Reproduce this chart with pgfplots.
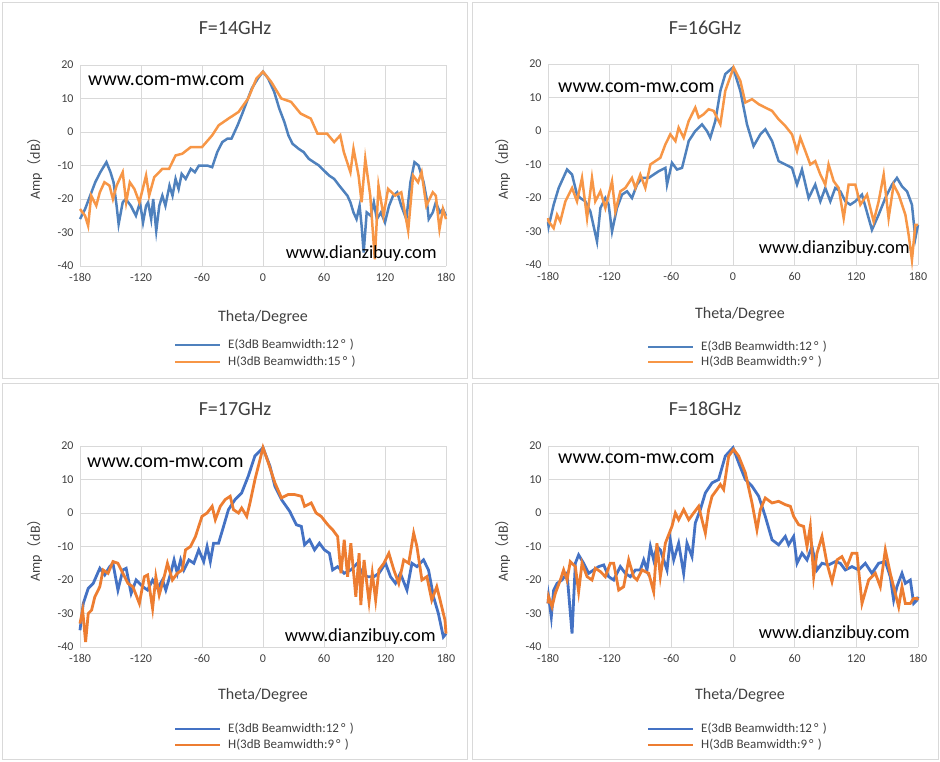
\documentclass[border=0pt]{standalone}
\usepackage{pgfplots}
\pgfplotsset{compat=1.18}
\usepackage{fontspec}
\setmainfont{Carlito}
\newfontfamily\cjk{Noto Sans CJK SC}
\definecolor{bA}{HTML}{4F81BD}
\definecolor{oA}{HTML}{F79646}
\definecolor{bB}{HTML}{4472C4}
\definecolor{oB}{HTML}{ED7D31}
\definecolor{gridc}{HTML}{D9D9D9}
\pgfplotsset{panel/.style={scale only axis,height=201pt,
 xmin=-180,xmax=180,ymin=-40,ymax=20,
 xtick={-180,-120,-60,0,60,120,180},ytick={-40,-30,...,20},
 grid=major,major grid style={gridc,line width=0.8pt},
 axis line style={draw=none},major tick length=0pt,
 tick label style={font=\fontsize{12}{14}\selectfont,text=black!75},
 /pgf/number format/assume math mode=true,
 xticklabel style={yshift=-4pt},yticklabel style={xshift=-3pt},
 clip=false}}
\newcommand\amp{Amp{\cjk （}dB{\cjk ）}}
\begin{document}
\begin{tikzpicture}[x=1pt,y=1pt]
\useasboundingbox (0,0) rectangle (940,-761);
\foreach \a/\b/\c/\d in {2/-2/467/-378,472/-2/938/-378,2/-383/467/-759,472/-383/938/-759}
 \draw[gridc,line width=0.8pt] (\a,\b) rectangle (\c,\d);
% Panel 1
\begin{axis}[panel,width=366pt,at={(80pt,-266pt)},anchor=south west]
\addplot[bA,line width=2.5pt] coordinates {(-180,-26)(-175,-23)(-170,-19)(-165,-15)(-160,-12)(-154,-9)(-150,-12)(-147,-15)(-144,-22)(-142,-27.5)(-138,-21)(-135,-20)(-130,-22)(-125,-25)(-121,-21)(-118,-27)(-115,-22)(-113,-21)(-110,-26)(-108,-20)(-105,-29.5)(-102,-22)(-99,-19)(-96,-22)(-92,-16)(-89,-19)(-86,-14)(-83,-17)(-80,-12.5)(-76,-14)(-71,-11)(-67,-12)(-63,-10)(-60,-10)(-55,-10)(-50,-10.5)(-45,-6)(-40,-3)(-35,-2)(-31,-2)(-25,2)(-21,5)(-16,9)(-11,13)(-5,16)(0,18)(5,16)(11,12)(16,7)(21,3)(25,-1)(29,-3.5)(35,-5)(40,-6)(45,-8)(50,-9)(55,-10)(60,-11.5)(65,-13)(70,-14)(75,-16)(79,-17.5)(83,-19)(86,-21)(89,-24)(92,-26)(95,-22)(97,-28)(99,-36)(102,-24)(106,-25)(109,-21)(112,-26)(116,-24)(120,-27)(124,-22)(128,-19)(132,-18)(136,-22)(141,-26)(145,-15)(149,-9)(153,-10)(158,-15)(161,-20)(163,-26)(167,-24)(170,-21)(174,-24)(177,-23)(180,-25)};
\addplot[oA,line width=2.5pt] coordinates {(-180,-23)(-175,-25)(-172,-28)(-169,-19)(-164,-22)(-160.5,-18)(-156,-15)(-151,-16)(-147.6,-20)(-144,-16)(-138,-12)(-134.6,-21)(-131,-15)(-126.5,-17)(-121.6,-21)(-115,-13)(-112,-19)(-107,-13.5)(-99,-11)(-92.4,-11)(-86,-7)(-79.5,-6.5)(-71,-4.5)(-60,-4.5)(-50,-1)(-43.6,2)(-34,4)(-24,6)(-14.6,10)(-6.4,16)(0,18)(8,15)(18,10)(27.6,9)(37,5.5)(47,4)(53.6,-0.5)(63,-0.5)(70,-3)(76,-1)(79.5,-6)(86,-12)(89,-5)(94,-13)(97,-21)(100.6,-8)(105.5,-19)(110,-38)(113.6,-16)(118.5,-25)(123,-17)(130,-19)(136,-18)(142.8,-29.5)(147.6,-13)(152.5,-15)(156,-12)(160.6,-22)(167,-18)(170,-19)(173.6,-29)(177,-23)(180,-26)};
\end{axis}
% Panel 2
\begin{axis}[panel,width=370pt,at={(548pt,-265pt)},anchor=south west]
\addplot[bA,line width=2.5pt] coordinates {(-180,-27)(-179.4,-28.5)(-174.5,-22)(-169.6,-17)(-161.5,-11.5)(-156.6,-13)(-151.8,-19)(-148.5,-20)(-143.7,-21)(-138.8,-24)(-132.3,-33)(-129,-23)(-124.2,-20)(-121,-22)(-117.7,-30)(-112.9,-23)(-108,-19)(-103.1,-18)(-98.3,-20)(-93.4,-16)(-88.5,-14)(-82,-14)(-77.2,-13)(-72.3,-12)(-65.8,-11)(-64.2,-16)(-59.4,-9.5)(-54.5,-11.5)(-49.6,-11)(-43.1,-3)(-36.7,0)(-30.2,2)(-25.3,0)(-22.1,-2)(-17.2,3)(-12.3,12)(-7.5,17)(0,19)(7.1,12)(13.6,2)(20,-4.5)(26.6,-1)(31.5,0.5)(38,-3)(44.4,-9)(50.9,-10)(57.4,-11)(62.3,-16)(67.1,-11.5)(73.6,-20)(80,-16)(85,-21)(89.8,-17)(94.7,-21)(99.5,-17)(104.4,-18)(109.3,-21)(114.1,-22)(119,-21)(125.5,-19)(135.2,-29.5)(141.7,-25)(148.2,-20)(154.7,-16)(159.5,-14)(164.4,-16.5)(169.3,-18)(174.1,-22)(177.4,-32)(180,-28)};
\addplot[oA,line width=2.5pt] coordinates {(-180,-26)(-179.4,-27)(-174.5,-29)(-171.2,-25)(-168,-27)(-163.1,-21)(-156.6,-17)(-151.8,-21)(-146.9,-14)(-142,-26)(-137.2,-14)(-134,-21)(-129,-18)(-124.2,-23)(-117.7,-15)(-114.5,-24)(-109.6,-18)(-104.8,-17)(-98.3,-14)(-95,-17)(-90.2,-13)(-85.3,-17)(-80.4,-10)(-75.6,-9)(-70.7,-8)(-65.8,-4)(-61,-1)(-56,-3)(-52.9,1)(-48,-2)(-43.1,3)(-36.7,7)(-33.4,4)(-28.5,5)(-23.7,6.5)(-18.8,6)(-12.3,2)(-7.5,12)(0.6,19)(7.1,15)(12,8.5)(18.5,9.5)(25,8)(31.4,7)(38,6)(44.4,3.5)(50.9,1.5)(57.4,-1)(62.3,-6)(65.5,-2)(70.4,-6)(75.2,-10)(80,-9)(85,-13)(89.8,-16)(93,-10)(98,-15)(102.8,-17)(107.7,-26)(112.5,-16)(119,-16)(123.9,-22)(130.4,-19)(136.8,-27)(141.7,-21)(146.6,-13)(151.4,-26)(156.3,-16)(161.2,-19)(167.7,-25)(170.9,-31)(174.1,-38.5)(177.4,-28)(180,-28)};
\end{axis}
% Panel 3
\begin{axis}[panel,width=366pt,at={(80pt,-647pt)},anchor=south west]
\addplot[bB,line width=2.8pt] coordinates {(-180,-35)(-176.8,-27)(-171.9,-22.5)(-167,-21)(-160.5,-16.5)(-155.7,-18.5)(-150.8,-16)(-147.6,-15)(-142.7,-23)(-137.8,-17)(-134.6,-16.5)(-129.7,-24)(-124.8,-20)(-118.3,-22)(-113.5,-23)(-108.6,-20)(-103.7,-22.5)(-98.9,-20)(-95.6,-23)(-90.8,-18)(-87.5,-14)(-84.3,-18)(-81,-14)(-77.8,-17)(-72.9,-14)(-68,-15)(-63.2,-11)(-58.3,-14.5)(-55,-10)(-51.8,-14.5)(-48.6,-9)(-43.7,-9)(-38.8,-4)(-34,1)(-27.5,4)(-21,6)(-14.5,11)(-8,17)(0,19.5)(6.8,14)(11.7,8)(18.2,4)(26.3,0.5)(32.8,-3.5)(37.7,-4)(40.9,-9.5)(45.8,-8)(50.7,-11)(55.5,-9)(60.4,-11)(65.3,-12)(68.5,-17)(73.4,-16)(79.9,-18)(86.4,-17)(92.9,-15)(97.8,-18)(102.7,-19)(109.1,-19)(114,-18)(120.5,-15)(125.4,-19)(130.3,-21)(135.1,-18)(141.6,-23)(146.5,-15)(151.4,-16)(157.9,-14)(162.8,-17)(167.7,-25)(172.5,-30)(177.4,-37)(180,-36)};
\addplot[oB,line width=2.8pt] coordinates {(-180,-33)(-177.4,-29)(-174.5,-38.5)(-171.9,-30)(-168.6,-29)(-165.4,-25)(-160.5,-22)(-157.3,-17)(-152.4,-18)(-147.6,-14.5)(-142.7,-15)(-137.8,-18)(-132.9,-21)(-128,-22)(-121.6,-27)(-116.7,-19)(-113.5,-18.5)(-108.6,-28.5)(-105.4,-19)(-102.1,-24.5)(-97.2,-19)(-94,-15)(-89.1,-20)(-84.3,-18)(-79.4,-17)(-76.2,-11)(-71.3,-10)(-66.4,-7)(-60,-1)(-55,0)(-50,2)(-46.9,-2)(-42,2)(-37.2,4)(-32.3,5)(-29,1)(-24.1,0)(-21,1.5)(-16,-1)(-12.8,3)(-7.9,10)(0,19.5)(5.2,15)(11.7,9)(18.2,4.5)(24.7,5.5)(31.2,5.5)(37.7,5)(40.9,2)(47.4,3)(52.3,0)(57.2,-1)(63.7,-3.5)(68.5,-5)(73.4,-7)(76.7,-18)(79.9,-8)(83.2,-19)(86.4,-9)(91.3,-25)(94.5,-12)(96.2,-27.5)(99.4,-14)(104.3,-26.5)(107.5,-18)(110.8,-26)(114,-17)(118.9,-15)(123.8,-12)(128.7,-17)(133.5,-21)(138.4,-14)(143.3,-15)(148.2,-6)(151.4,-10)(156.3,-20)(161.2,-19)(166,-26)(170.9,-22)(174.2,-26)(179,-32)(180,-36)};
\end{axis}
% Panel 4
\begin{axis}[panel,width=370pt,at={(548pt,-647pt)},anchor=south west]
\addplot[bB,line width=2.8pt] coordinates {(-180,-27)(-179.4,-25)(-176.8,-31)(-174.5,-23)(-171.2,-21)(-166.4,-20)(-161.5,-18)(-156.6,-36)(-153.4,-15)(-150.2,-12.5)(-145.3,-15)(-140.4,-18)(-135.6,-17)(-130.7,-16)(-125.8,-15.5)(-121,-19)(-116.1,-20)(-109.6,-16)(-104.8,-18)(-99.9,-19)(-95,-17)(-90.2,-17)(-86.9,-14)(-83.7,-17)(-80.4,-10)(-77.2,-14)(-74,-10)(-70.7,-11)(-64.2,-17)(-61,-8)(-57.7,-14)(-52.9,-9)(-48,-18)(-44.8,-9)(-39.9,-13)(-36.7,-3)(-31.8,1)(-26.9,6)(-20.4,9)(-14,10)(-7.5,17)(0,19.5)(5.5,15)(12,10)(18.5,8)(25,5)(31.4,-1)(38,-8)(44.4,-9.5)(50.9,-7)(54.1,-9.5)(59,-7)(62.3,-15)(67.1,-12)(72,-14)(76.8,-10)(81.7,-17)(86.6,-15)(93,-15.5)(99.5,-14.5)(104.4,-15)(109.3,-17)(115.8,-16)(122.2,-17)(128.7,-15)(135.2,-18)(141.7,-15)(148.2,-14.5)(153,-19)(156.3,-26)(159.5,-22)(164.4,-18)(167.7,-21)(172.5,-20)(175.8,-27)(179,-26)(180,-25)};
\addplot[oB,line width=2.8pt] coordinates {(-180,-27)(-179.4,-25)(-176.1,-28)(-172.9,-24)(-168,-20)(-164.8,-17)(-161.5,-20)(-158.3,-14.5)(-153.4,-16)(-150.2,-23.5)(-146.9,-15)(-142,-19)(-137.2,-20)(-134,-16.5)(-129,-17.5)(-124.2,-19)(-119.4,-15)(-116.1,-15)(-111.2,-23)(-106.4,-22)(-101.5,-14)(-96.7,-19)(-93.4,-20)(-88.5,-17)(-82,-18)(-77.2,-23.5)(-74,-9)(-70.7,-19)(-65.8,-9)(-59.4,-4)(-56.1,0)(-52.9,-2)(-48,1)(-43.1,-2)(-38.3,0)(-33.4,2)(-30.2,-2)(-26.9,-6)(-23.7,1)(-20.4,5)(-15.6,7)(-12.3,8.5)(-9.1,7)(-4.2,17)(0.6,19)(5.5,17)(12,12)(18.5,3)(23.3,-5)(26.6,1)(31.4,4.5)(38,3)(44.4,3.5)(50.9,2.5)(55.8,2)(59,-1)(63.9,-3.5)(68.7,-4)(72,-10)(75.2,-4)(78.5,-19)(81.7,-12)(86.6,-7)(91.4,-15)(96.3,-20.5)(101.2,-14)(106,-13)(110.9,-16)(115.8,-12)(120.6,-12)(125.5,-27)(132,-20)(138.5,-18)(143.3,-22)(148.2,-11)(153,-18)(157.9,-24)(161.2,-28)(164.4,-22)(167.7,-27)(172.5,-27)(175.8,-25.5)(179,-25.5)(180,-26)};
\end{axis}
% texts
\foreach \x/\y/\t in {235/-28/14,705/-28/16,235/-409/17,705/-409/18}
 \node[font=\fontsize{20}{24}\selectfont,text=black!75] at (\x,\y) {F=\t GHz};
\foreach \x/\y in {88/-81,558/-88,87/-463,558/-459}
 \node[anchor=west,inner sep=0,font=\fontsize{20}{24}\selectfont] at (\x,\y) {www.com-mw.com};
\foreach \x/\y in {437/-254,910/-249,436/-637,910/-634}
 \node[anchor=east,inner sep=0,font=\fontsize{18.5}{22}\selectfont] at (\x,\y) {www.dianzibuy.com};
\foreach \x/\y in {35/-165,503/-165,35/-547,503/-547}
 \node[rotate=90,font=\fontsize{14}{16}\selectfont,text=black!75] at (\x,\y) {\amp};
\foreach \x/\y in {263/-317,740/-314,263/-695,740/-695}
 \node[font=\fontsize{16}{18}\selectfont,text=black!75] at (\x,\y) {Theta/Degree};
% legends
\foreach \x/\ya/\yb/\cb/\co/\lw/\hw in {175/-345/-362/bA/oA/2.5/15,648/-347/-362/bA/oA/2.5/9,175/-729/-745/bB/oB/2.8/9,648/-729/-745/bB/oB/2.8/9}{
 \draw[\cb,line width=\lw pt] (\x,\ya) -- ++(45,0);
 \draw[\co,line width=\lw pt] (\x,\yb) -- ++(45,0);
 \node[anchor=west,inner sep=0,font=\fontsize{13}{15}\selectfont,text=black!75] at (\x+53,\ya) {E(3dB Beamwidth:12\,°\,\,)};
 \node[anchor=west,inner sep=0,font=\fontsize{13}{15}\selectfont,text=black!75] at (\x+53,\yb) {H(3dB Beamwidth:\hw\,°\,\,)};
}
\end{tikzpicture}
\end{document}
